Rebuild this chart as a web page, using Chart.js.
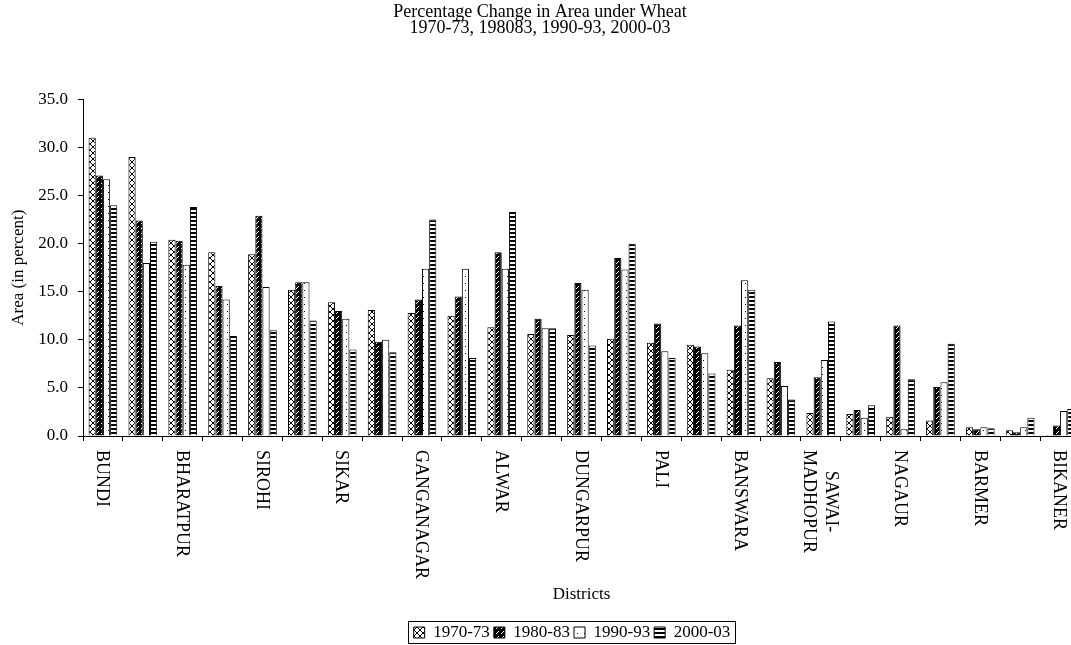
<!DOCTYPE html>
<html>
<head>
<meta charset="utf-8">
<title>Percentage Change in Area under Wheat</title>
<script src="https://cdn.jsdelivr.net/npm/chart.js@4/dist/chart.umd.min.js"></script>
<style>
    html, body { margin: 0; padding: 0; background: #fff; overflow: hidden; }
    #wrap { width: 1090px; height: 651px; }
</style>
</head>
<body>
<div id="wrap"><canvas id="barChartWheat" width="1090" height="651"></canvas></div>
<script>
//================================================================================================Data================================

    // districts (only every other one is labelled in the original)
    var districts = ['BUNDI', '', 'BHARATPUR', '', 'SIROHI', '', 'SIKAR', '', 'GANGANAGAR', '',
        'ALWAR', '', 'DUNGARPUR', '', 'PALI', '', 'BANSWARA', '', ['SAWAI-', 'MADHOPUR'], '',
        'NAGAUR', '', 'BARMER', '', 'BIKANER'];

    var periods = ['1970-73', '1980-83', '1990-93', '2000-03'];

    var values1970 = [31.0, 29.0, 20.4, 19.1, 18.9, 15.2, 13.9, 13.1, 12.8, 12.5, 11.3, 10.6, 10.5,
        10.1, 9.7, 9.5, 6.9, 6.0, 2.4, 2.3, 2.0, 1.6, 0.9, 0.6, 0.1];
    var values1980 = [27.1, 22.4, 20.3, 15.6, 22.9, 16.0, 13.0, 9.8, 14.2, 14.5, 19.1, 12.2, 15.9,
        18.5, 11.7, 9.3, 11.5, 7.7, 6.1, 2.7, 11.5, 5.1, 0.7, 0.4, 1.1];
    var values1990 = [26.7, 18.0, 17.8, 14.2, 15.5, 16.0, 12.2, 10.0, 17.4, 17.4, 17.4, 11.2, 15.2,
        17.3, 8.8, 8.6, 16.2, 5.2, 7.9, 1.9, 0.7, 5.6, 0.9, 0.9, 2.6];
    var values2000 = [24.0, 20.2, 23.8, 10.4, 11.0, 12.0, 9.0, 8.7, 22.5, 8.1, 23.3, 11.2, 9.4,
        20.0, 8.1, 6.5, 15.2, 3.8, 11.9, 3.2, 5.9, 9.6, 0.8, 1.9, 2.8];

    var yTicks = [0, 5, 10, 15, 20, 25, 30, 35];

//================================================================================================Fill patterns================================

    var serif = '"Liberation Serif", "Times New Roman", serif';

    function makePattern(kind) {
        var tile = document.createElement('canvas');
        var c = tile.getContext('2d');
        if (kind === 'cross') {
            tile.width = 6; tile.height = 6;
            c.fillStyle = '#fff'; c.fillRect(0, 0, 6, 6);
            c.fillStyle = '#000';
            for (var i = 0; i < 6; i++) {
                c.fillRect(i, i, 1, 1);
                c.fillRect(5 - i, i, 1, 1);
            }
        } else if (kind === 'slash') {
            tile.width = 5; tile.height = 5;
            c.fillStyle = '#000'; c.fillRect(0, 0, 5, 5);
            c.fillStyle = '#fff';
            c.fillRect(3, 1, 1, 1);
            c.fillRect(2, 2, 1, 1);
            c.fillRect(1, 3, 1, 1);
        } else if (kind === 'dots') {
            tile.width = 7; tile.height = 7;
            c.fillStyle = '#fff'; c.fillRect(0, 0, 7, 7);
            c.fillStyle = '#000';
            c.fillRect(3, 3, 1, 1);
        } else {
            tile.width = 4; tile.height = 4;
            c.fillStyle = '#fff'; c.fillRect(0, 0, 4, 4);
            c.fillStyle = '#000';
            c.fillRect(0, 0, 4, 2);
        }
        return document.getElementById('barChartWheat').getContext('2d').createPattern(tile, 'repeat');
    }

    var fills = [makePattern('cross'), makePattern('slash'), makePattern('dots'), makePattern('stripes')];

//================================================================================================Plugins================================

    // rotated district names, reading top to bottom like the original
    var districtLabels = {
        id: 'districtLabels',
        afterDraw: function(chart) {
            var ctx = chart.ctx;
            var xScale = chart.scales.x;
            var top = chart.chartArea.bottom + 14;
            ctx.save();
            ctx.font = '18px ' + serif;
            ctx.fillStyle = '#000';
            ctx.textBaseline = 'middle';
            ctx.textAlign = 'left';
            for (var i = 0; i < districts.length; i++) {
                var lines = Array.isArray(districts[i]) ? districts[i] : [districts[i]];
                if (!lines[0]) continue;
                var widths = lines.map(function(t) { return ctx.measureText(t).width; });
                var maxW = Math.max.apply(null, widths);
                var lh = 22;
                var x = xScale.getPixelForValue(i) - 1;
                ctx.save();
                ctx.translate(x, top);
                ctx.rotate(Math.PI / 2);
                for (var j = 0; j < lines.length; j++) {
                    var off = (j - (lines.length - 1) / 2) * lh;
                    ctx.fillText(lines[j], (maxW - widths[j]) / 2, off);
                }
                ctx.restore();
            }
            ctx.restore();
        }
    };

    // legend sits a bit right of centre in the original, with a thin frame
    var legendFrame = {
        id: 'legendFrame',
        afterLayout: function(chart) {
            if (!chart.legend) return;
            chart.legend.left += 32;
            chart.legend.right += 32;
        },
        afterDraw: function(chart) {
            var boxes = chart.legend && chart.legend.legendHitBoxes;
            if (!boxes || !boxes.length) return;
            var left = Infinity, right = -Infinity, top = Infinity, bottom = -Infinity;
            boxes.forEach(function(b) {
                left = Math.min(left, b.left);
                right = Math.max(right, b.left + b.width);
                top = Math.min(top, b.top);
                bottom = Math.max(bottom, b.top + b.height);
            });
            var ctx = chart.ctx;
            ctx.save();
            ctx.strokeStyle = '#000';
            ctx.lineWidth = 1;
            ctx.strokeRect(Math.round(left - 6) + 0.5, Math.round(top - 3) + 0.5,
                Math.round(right - left + 10), Math.round(bottom - top + 5));
            ctx.restore();
        }
    };

//================================================================================================Wheat Bar Chart =================

    Chart.defaults.font.family = serif;
    Chart.defaults.font.size = 17;
    Chart.defaults.color = '#000';

    var seriesValues = [values1970, values1980, values1990, values2000];

    var chrt = document.getElementById('barChartWheat').getContext('2d');
    var config = {
        type: 'bar',
        data: {
            labels: districts,
            datasets: periods.map(function(p, i) {
                return {
                    label: p,
                    data: seriesValues[i],
                    backgroundColor: fills[i],
                    borderColor: '#000',
                    borderWidth: 1,
                    categoryPercentage: 0.72,
                    barPercentage: 1.0
                };
            })
        },
        options: {
            responsive: false,
            animation: false,
            layout: { padding: { left: 0, right: 10, top: 0, bottom: 0 } },
            plugins: {
                title: {
                    display: true,
                    text: ['Percentage Change in Area under Wheat', '1970-73, 198083, 1990-93, 2000-03'],
                    font: { size: 18, weight: 'normal', lineHeight: 0.9 },
                    color: '#000',
                    padding: { top: 4, bottom: 63 }
                },
                legend: {
                    position: 'bottom',
                    labels: {
                        boxWidth: 11,
                        boxHeight: 11,
                        padding: 4,
                        font: { size: 17 },
                        color: '#000'
                    }
                },
                tooltip: { enabled: false }
            },
            scales: {
                x: {
                    offset: true,
                    grid: {
                        display: true,
                        offset: true,
                        drawOnChartArea: false,
                        drawTicks: true,
                        tickLength: 5,
                        color: '#000'
                    },
                    border: { display: true, color: '#000', width: 1 },
                    ticks: { display: false },
                    title: {
                        display: true,
                        text: 'Districts',
                        font: { size: 17 },
                        color: '#000',
                        padding: { top: 0, bottom: 15 }
                    },
                    afterFit: function(scale) { scale.height = 184; }
                },
                y: {
                    min: 0,
                    max: 35,
                    afterBuildTicks: function(scale) {
                        scale.ticks = yTicks.map(function(v) { return { value: v }; });
                    },
                    grid: {
                        drawOnChartArea: false,
                        drawTicks: true,
                        tickLength: 5,
                        color: '#000'
                    },
                    border: { display: true, color: '#000', width: 1 },
                    ticks: {
                        padding: 10,
                        font: { size: 17 },
                        color: '#000',
                        callback: function(v) { return Number(v).toFixed(1); }
                    },
                    title: {
                        display: true,
                        text: 'Area (in percent)',
                        font: { size: 17 },
                        color: '#000',
                        padding: { top: 8, bottom: 0 }
                    },
                    afterFit: function(scale) { scale.width = 83; }
                }
            }
        },
        plugins: [districtLabels, legendFrame]
    };

    var barChartWheat = new Chart(chrt, config);
</script>
</body>
</html>
